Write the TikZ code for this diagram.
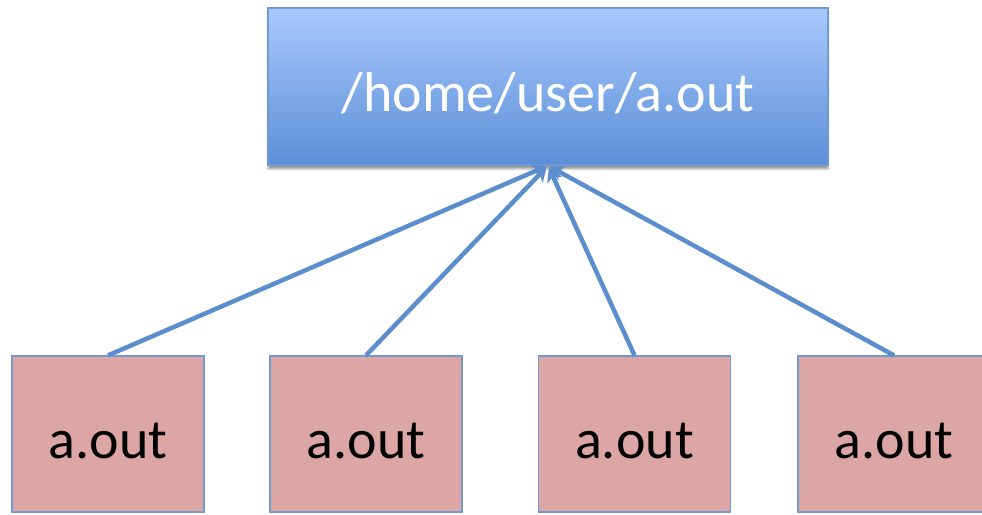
\documentclass[tikz,border=0pt]{standalone}
\usepackage{fontspec}
\setmainfont{Carlito}
\usetikzlibrary{arrows.meta,shadows.blur}
\definecolor{topA}{HTML}{AAC9FC}
\definecolor{topB}{HTML}{5A8FD8}
\definecolor{edgeblue}{HTML}{7199D4}
\definecolor{linkblue}{HTML}{5C8DCD}
\definecolor{pinkfill}{HTML}{DCA6A4}
\tikzset{
  x=1pt, y=1pt,
  pathbox/.style={draw=edgeblue, line width=1.2pt, top color=topA, bottom color=topB,
    minimum width=560pt, minimum height=157pt, inner sep=0pt,
    blur shadow={shadow xshift=0pt, shadow yshift=-4pt, shadow blur steps=6, shadow opacity=40}},
  procbox/.style={draw=edgeblue, line width=1.2pt, fill=pinkfill,
    minimum width=192pt, minimum height=156pt, inner sep=0pt},
  boxlabel/.style={font=\fontsize{56}{60}\selectfont, anchor=base, inner sep=0pt},
  link/.style={draw=linkblue, line width=4.5pt, -{Stealth[length=14pt,width=16pt,inset=4pt]}, shorten >=2pt},
}
\begin{document}
\begin{tikzpicture}
\useasboundingbox (0,0) rectangle (982,514);
% executable path on top
\node[pathbox] (top) at (548,427.5) {};
\node[boxlabel, text=white] (toplabel) at (548,402) {/home/user/a.out};
% four process copies
\foreach \i/\cx in {1/108, 2/366, 3/634.5, 4/894}{
  \node[procbox] (p\i) at (\cx,80) {};
  \node[boxlabel] (l\i) at (\cx,56) {a.out};
}
% each copy refers to the same file
\foreach \i in {1,...,4}{
  \draw[link] (p\i.north) -- (top.south);
}
\end{tikzpicture}
\end{document}
